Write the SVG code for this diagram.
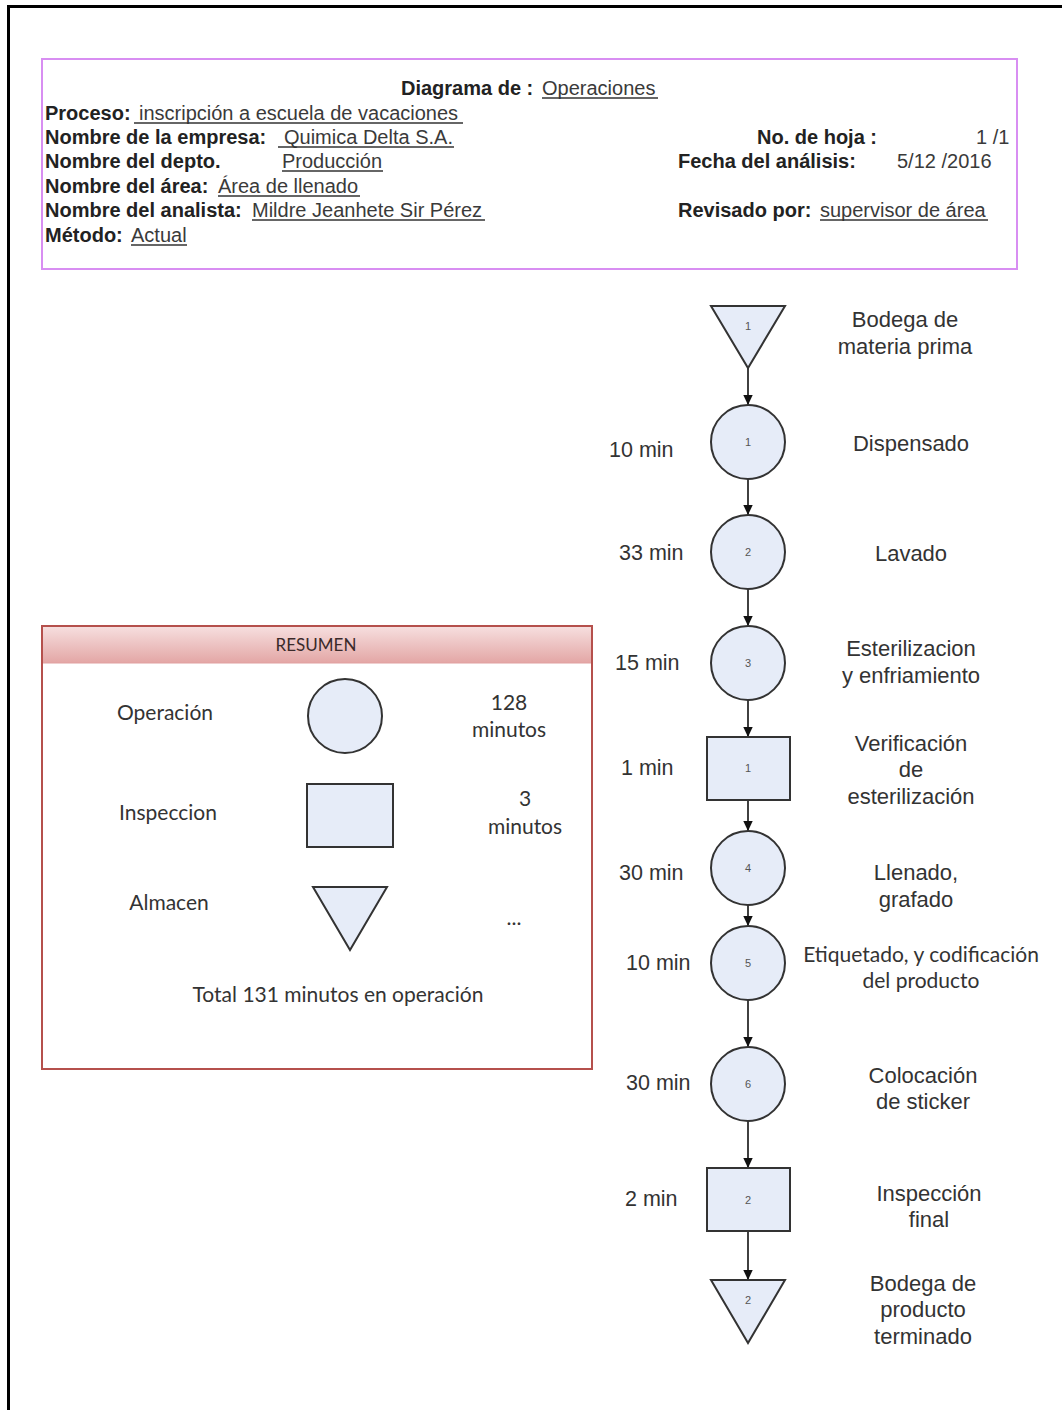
<svg xmlns="http://www.w3.org/2000/svg" width="1062" height="1410" viewBox="0 0 1062 1410">
<style>
.h{font-family:"Liberation Sans",Arial,sans-serif;font-size:20px;fill:#222}
.hb{font-weight:bold}
.v{fill:#3a3a3a}
.ul{stroke:#333;stroke-width:1.5}
.node{fill:#e6ecf8;stroke:#333;stroke-width:2}
.num{font-family:"Liberation Sans",Arial,sans-serif;font-size:11px;fill:#555;text-anchor:middle}
.lbl{font-family:"Liberation Sans",Arial,sans-serif;font-size:22px;fill:#333;text-anchor:middle}
.tm{font-family:"Liberation Sans",Arial,sans-serif;font-size:21.5px;fill:#333}
.cal{font-family:Lato,"Open Sans",sans-serif;font-size:21px;fill:#333;text-anchor:middle}
.conn{stroke:#111;stroke-width:1.6;fill:none;marker-end:url(#arr)}
</style>
<defs>
<marker id="arr" markerUnits="userSpaceOnUse" markerWidth="10" markerHeight="11" refX="10" refY="5.5" orient="auto">
<path d="M0,0.8 L10,5.5 L0,10.2 z" fill="#111"/>
</marker>
<linearGradient id="band" x1="0" y1="0" x2="0" y2="1">
<stop offset="0" stop-color="#f6dede"/>
<stop offset="1" stop-color="#e3a6a5"/>
</linearGradient>
</defs>
<rect x="0" y="0" width="1062" height="1410" fill="#fff"/>
<rect x="8.5" y="6.5" width="1100" height="1500" fill="none" stroke="#000" stroke-width="3"/>

<g id="header">
<rect x="42" y="59" width="975" height="210" fill="#fff" stroke="#d88ef2" stroke-width="2"/>
<text class="h hb" x="401" y="95">Diagrama de :</text>
<text class="h v" x="542" y="95">Operaciones</text>
<line class="ul" x1="542" y1="98" x2="658" y2="98"/>
<text class="h hb" x="45" y="120">Proceso:</text>
<text class="h v" x="139" y="120">inscripción a escuela de vacaciones</text>
<line class="ul" x1="134" y1="123" x2="463" y2="123"/>
<text class="h hb" x="45" y="144">Nombre de la empresa:</text>
<text class="h v" x="284" y="144">Quimica Delta S.A.</text>
<line class="ul" x1="278" y1="147" x2="454" y2="147"/>
<text class="h hb" x="45" y="168">Nombre del depto.</text>
<text class="h v" x="282" y="168">Producción</text>
<line class="ul" x1="282" y1="171" x2="383" y2="171"/>
<text class="h hb" x="45" y="193">Nombre del área: </text>
<text class="h v" x="218" y="193">Área de llenado</text>
<line class="ul" x1="218" y1="196" x2="360" y2="196"/>
<text class="h hb" x="45" y="217">Nombre del analista: </text>
<text class="h v" x="252" y="217">Mildre Jeanhete Sir Pérez</text>
<line class="ul" x1="252" y1="220" x2="485" y2="220"/>
<text class="h hb" x="45" y="242">Método: </text>
<text class="h v" x="131" y="242">Actual</text>
<line class="ul" x1="131" y1="245" x2="187" y2="245"/>
<text class="h hb" x="757" y="144">No. de hoja :</text>
<text class="h v" x="976" y="144">1 /1</text>
<text class="h hb" x="678" y="168">Fecha del análisis:</text>
<text class="h v" x="897" y="168">5/12 /2016</text>
<text class="h hb" x="678" y="217">Revisado por:</text>
<text class="h v" x="820" y="217">supervisor de área</text>
<line class="ul" x1="820" y1="220" x2="988" y2="220"/>
</g>

<g id="resumen">
<rect x="42" y="626" width="550" height="443" fill="#fff" stroke="#b5504c" stroke-width="2"/>
<rect x="43" y="627" width="548" height="36" fill="url(#band)"/>
<line x1="43" y1="663" x2="591" y2="663" stroke="#e0a0a0" stroke-width="1"/>
<text class="cal" x="316" y="651" style="font-size:17px;fill:#3a2a2a">RESUMEN</text>
<text class="cal" x="165" y="720">Operación</text>
<circle class="node" cx="345" cy="716" r="37"/>
<text class="cal" x="509" y="710">128</text>
<text class="cal" x="509" y="737">minutos</text>
<text class="cal" x="168" y="820">Inspeccion</text>
<rect class="node" x="307" y="784" width="86" height="63"/>
<text class="cal" x="525" y="806">3</text>
<text class="cal" x="525" y="834">minutos</text>
<text class="cal" x="169" y="910">Almacen</text>
<polygon class="node" points="313,887 387,887 350,950"/>
<text class="cal" x="514" y="925">...</text>
<text class="cal" x="338" y="1002">Total 131 minutos en operación</text>
</g>

<g id="connectors">
<line class="conn" x1="748" y1="368" x2="748" y2="405"/>
<line class="conn" x1="748" y1="479" x2="748" y2="515"/>
<line class="conn" x1="748" y1="589" x2="748" y2="626"/>
<line class="conn" x1="748" y1="700" x2="748" y2="737"/>
<line class="conn" x1="748" y1="800" x2="748" y2="831"/>
<line class="conn" x1="748" y1="905" x2="748" y2="926"/>
<line class="conn" x1="748" y1="1000" x2="748" y2="1047"/>
<line class="conn" x1="748" y1="1121" x2="748" y2="1168"/>
<line class="conn" x1="748" y1="1231" x2="748" y2="1280"/>
</g>

<g id="n-alm1">
<polygon class="node" points="711,306 785,306 748,368"/>
<text class="num" x="748" y="330">1</text>
<text class="lbl" x="905" y="327">Bodega de</text>
<text class="lbl" x="905" y="354">materia prima</text>
</g>
<g id="n-op1">
<circle class="node" cx="748" cy="442" r="37"/>
<text class="num" x="748" y="446">1</text>
<text class="tm" x="609" y="457">10 min</text>
<text class="lbl" x="911" y="451">Dispensado</text>
</g>
<g id="n-op2">
<circle class="node" cx="748" cy="552" r="37"/>
<text class="num" x="748" y="556">2</text>
<text class="tm" x="619" y="560">33 min</text>
<text class="lbl" x="911" y="561">Lavado</text>
</g>
<g id="n-op3">
<circle class="node" cx="748" cy="663" r="37"/>
<text class="num" x="748" y="667">3</text>
<text class="tm" x="615" y="670">15 min</text>
<text class="lbl" x="911" y="656">Esterilizacion</text>
<text class="lbl" x="911" y="683">y enfriamiento</text>
</g>
<g id="n-ins1">
<rect class="node" x="707" y="737" width="83" height="63"/>
<text class="num" x="748" y="772">1</text>
<text class="tm" x="621" y="775">1 min</text>
<text class="lbl" x="911" y="751">Verificación</text>
<text class="lbl" x="911" y="777">de</text>
<text class="lbl" x="911" y="804">esterilización</text>
</g>
<g id="n-op4">
<circle class="node" cx="748" cy="868" r="37"/>
<text class="num" x="748" y="872">4</text>
<text class="tm" x="619" y="880">30 min</text>
<text class="lbl" x="916" y="880">Llenado,</text>
<text class="lbl" x="916" y="907">grafado</text>
</g>
<g id="n-op5">
<circle class="node" cx="748" cy="963" r="37"/>
<text class="num" x="748" y="967">5</text>
<text class="tm" x="626" y="970">10 min</text>
<text class="cal" x="921" y="962">Etiquetado, y codificación</text>
<text class="cal" x="921" y="988">del producto</text>
</g>
<g id="n-op6">
<circle class="node" cx="748" cy="1084" r="37"/>
<text class="num" x="748" y="1088">6</text>
<text class="tm" x="626" y="1090">30 min</text>
<text class="lbl" x="923" y="1083">Colocación</text>
<text class="lbl" x="923" y="1109">de sticker</text>
</g>
<g id="n-ins2">
<rect class="node" x="707" y="1168" width="83" height="63"/>
<text class="num" x="748" y="1204">2</text>
<text class="tm" x="625" y="1206">2 min</text>
<text class="lbl" x="929" y="1201">Inspección</text>
<text class="lbl" x="929" y="1227">final</text>
</g>
<g id="n-alm2">
<polygon class="node" points="711,1280 785,1280 748,1343"/>
<text class="num" x="748" y="1304">2</text>
<text class="lbl" x="923" y="1291">Bodega de</text>
<text class="lbl" x="923" y="1317">producto</text>
<text class="lbl" x="923" y="1344">terminado</text>
</g>
</svg>
